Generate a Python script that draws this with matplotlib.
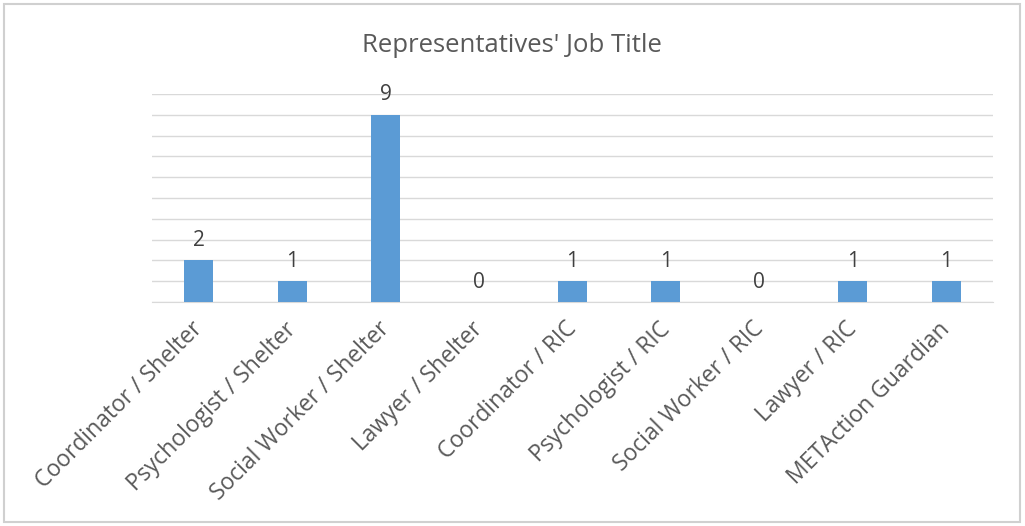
import matplotlib.pyplot as plt
from matplotlib.patches import Rectangle
from matplotlib.transforms import ScaledTranslation

categories = ["Coordinator / Shelter", "Psychologist / Shelter", "Social Worker / Shelter",
              "Lawyer / Shelter", "Coordinator / RIC", "Psychologist / RIC",
              "Social Worker / RIC", "Lawyer / RIC", "METAction Guardian"]
counts = [2, 1, 9, 0, 1, 1, 0, 1, 1]

plt.rcParams['font.family'] = ['Open Sans', 'DejaVu Sans']

fig = plt.figure(figsize=(10.25, 5.26), dpi=100)
ax = fig.add_axes([152 / 1025, 1 - 302 / 526, 841 / 1025, 208 / 526])

x = list(range(len(categories)))
bars = ax.bar(x, counts, width=0.31, color='#5b9bd5', zorder=3)

for xi, v in zip(x, counts):
    ax.text(xi, v + 0.45, str(v), ha='center', va='bottom', fontsize=15, color='#404040')

ax.set_xlim(-0.5, len(categories) - 0.5)
ax.set_ylim(0, 10)
ax.set_yticks(range(0, 11))
ax.yaxis.grid(True, color='#d9d9d9', linewidth=1, zorder=0)
ax.tick_params(axis='y', left=False, labelleft=False)
ax.tick_params(axis='x', length=0, pad=11)
ax.set_xticks(x)
ax.set_xticklabels(categories, rotation=45, ha='right', rotation_mode='anchor',
                   fontsize=16.5, color='#595959')
# nudge labels a bit left so their ends sit under the bars
for lbl in ax.get_xticklabels():
    lbl.set_transform(lbl.get_transform() + ScaledTranslation(-0.08, 0, fig.dpi_scale_trans))
for s in ['top', 'right', 'left']:
    ax.spines[s].set_visible(False)
ax.spines['bottom'].set_color('#d9d9d9')

fig.text(512 / 1025, 1 - 45 / 526, "Representatives' Job Title", ha='center', va='center',
         fontsize=18.5, color='#595959')

# chart border
fig.patches.append(Rectangle((4 / 1025, 4 / 526), 1016 / 1025, 518 / 526, transform=fig.transFigure,
                             fill=False, edgecolor='#d0d0d0', linewidth=1.5))

fig.savefig('out.png', dpi=100)
